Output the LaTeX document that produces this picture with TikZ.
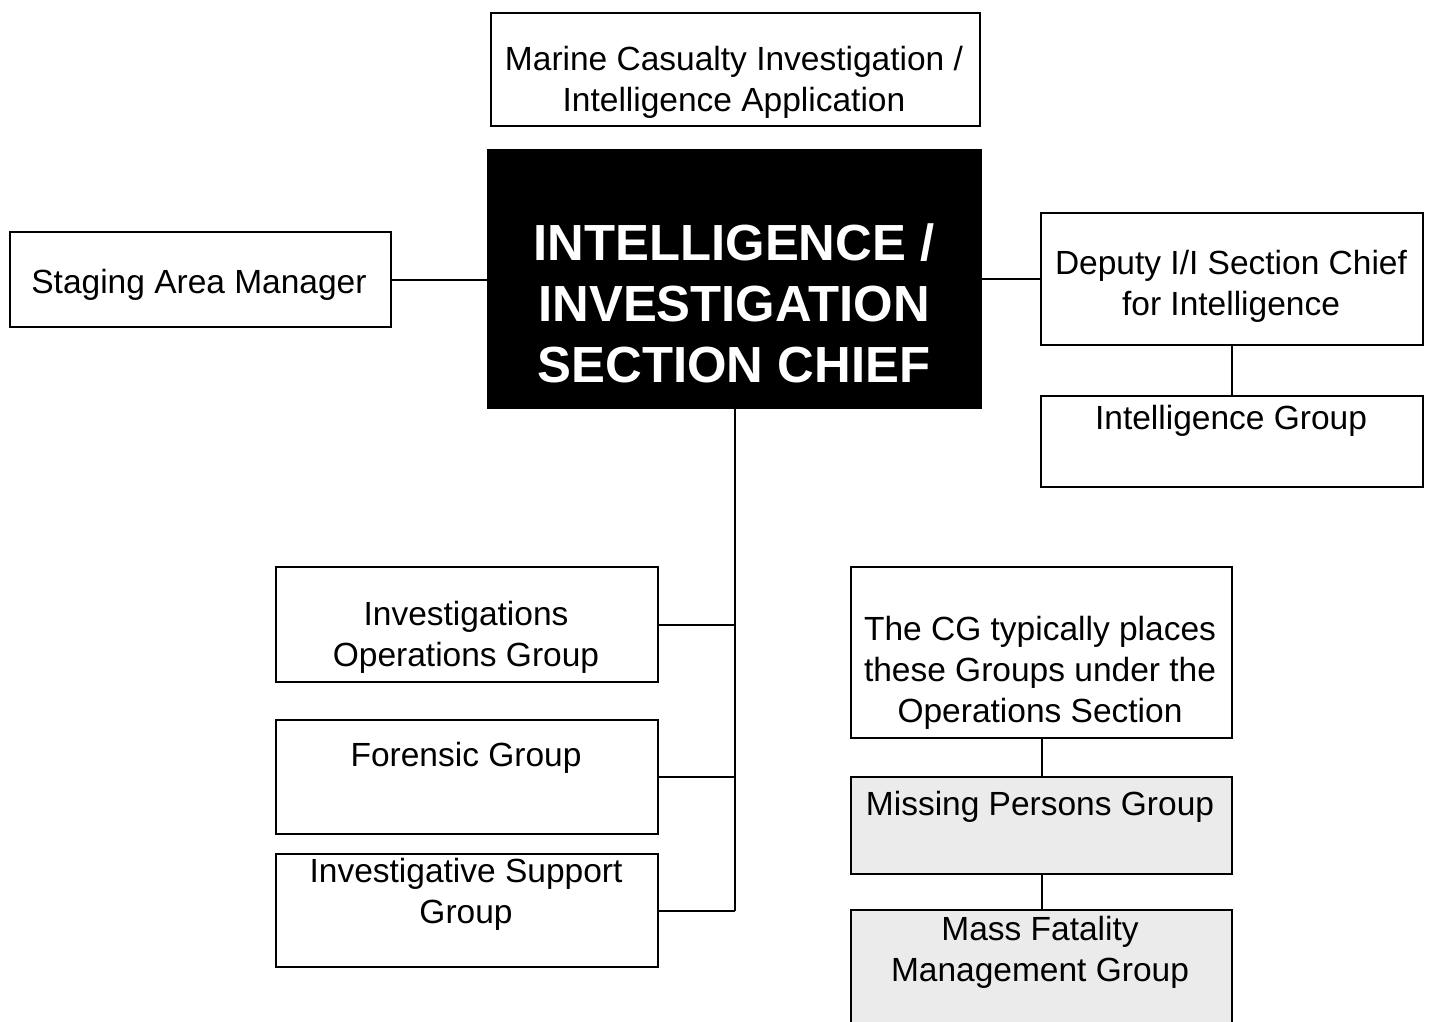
\documentclass[tikz,border=0pt]{standalone}
\usepackage{fontspec}
\setmainfont{Liberation Sans}
\begin{document}
\begin{tikzpicture}[x=1pt,y=-1pt,
  box/.style={draw=black, line width=2.2pt, inner sep=0pt, anchor=north west, fill=white},
  shaded/.style={fill=black!8},
  chiefbox/.style={draw=black, line width=2.2pt, inner sep=0pt, anchor=north west, fill=black},
  txt/.style={anchor=north, inner sep=0pt, align=center, font=\fontsize{33.5}{41}\selectfont},
  bigtxt/.style={anchor=north, inner sep=0pt, align=center, text=white, font=\fontsize{50.8}{61}\selectfont\bfseries},
  conn/.style={draw=black, line width=2.2pt}]
\clip (0,0) rectangle (1434,1021);
\fill[white] (0,0) rectangle (1434,1021);
% boxes
\node[box, minimum width=489pt, minimum height=113pt] (marine) at (490,12) {};
\node[chiefbox, minimum width=493pt, minimum height=258pt] (chief) at (487,149) {};
\node[box, minimum width=381pt, minimum height=95pt] (staging) at (9,231) {};
\node[box, minimum width=382pt, minimum height=132pt] (deputy) at (1040,212) {};
\node[box, minimum width=382pt, minimum height=91pt] (intgrp) at (1040,395) {};
\node[box, minimum width=382pt, minimum height=115pt] (invops) at (275,566) {};
\node[box, minimum width=382pt, minimum height=114pt] (forensic) at (275,719) {};
\node[box, minimum width=382pt, minimum height=113pt] (invsup) at (275,853) {};
\node[box, minimum width=381pt, minimum height=171pt] (cgnote) at (850,566) {};
\node[box, shaded, minimum width=381pt, minimum height=97pt] (missing) at (850,776) {};
\node[box, shaded, minimum width=381pt, minimum height=140pt] (massfat) at (850,909) {};
% texts
\node[txt] (marinet) at (734,46) {Marine Casualty Investigation /\\Intelligence Application};
\node[bigtxt] (chieft) at (734,223) {INTELLIGENCE /\\INVESTIGATION\\SECTION CHIEF};
\node[txt] (stagingt) at (199,269) {Staging Area Manager};
\node[txt] (deputyt) at (1231,250) {Deputy I/I Section Chief\\for Intelligence};
\node[txt] (intgrpt) at (1231,405) {Intelligence Group};
\node[txt] (invopst) at (466,601) {Investigations\\Operations Group};
\node[txt] (forensict) at (466,742) {Forensic Group};
\node[txt] (invsupt) at (466,858) {Investigative Support\\Group};
\node[txt] (cgnotet) at (1040,616) {The CG typically places\\these Groups under the\\Operations Section};
\node[txt] (missingt) at (1040,791) {Missing Persons Group};
\node[txt] (massfatt) at (1040,916) {Mass Fatality\\Management Group};
% connectors
\coordinate (trunkend) at (chief.south |- invsup.east);
\draw[conn] (staging.east) -- (staging.east -| chief.west);
\draw[conn] (chief.east) -- (deputy.west);
\draw[conn] (deputy.south) -- (intgrp.north);
\draw[conn] (chief.south) -- (trunkend);
\draw[conn] (invops.east) -- (invops.east -| chief.south);
\draw[conn] (forensic.east) -- (forensic.east -| chief.south);
\draw[conn] (invsup.east) -- (trunkend);
\draw[conn] (cgnote.south) -- (missing.north);
\draw[conn] (missing.south) -- (massfat.north);
\end{tikzpicture}
\end{document}
